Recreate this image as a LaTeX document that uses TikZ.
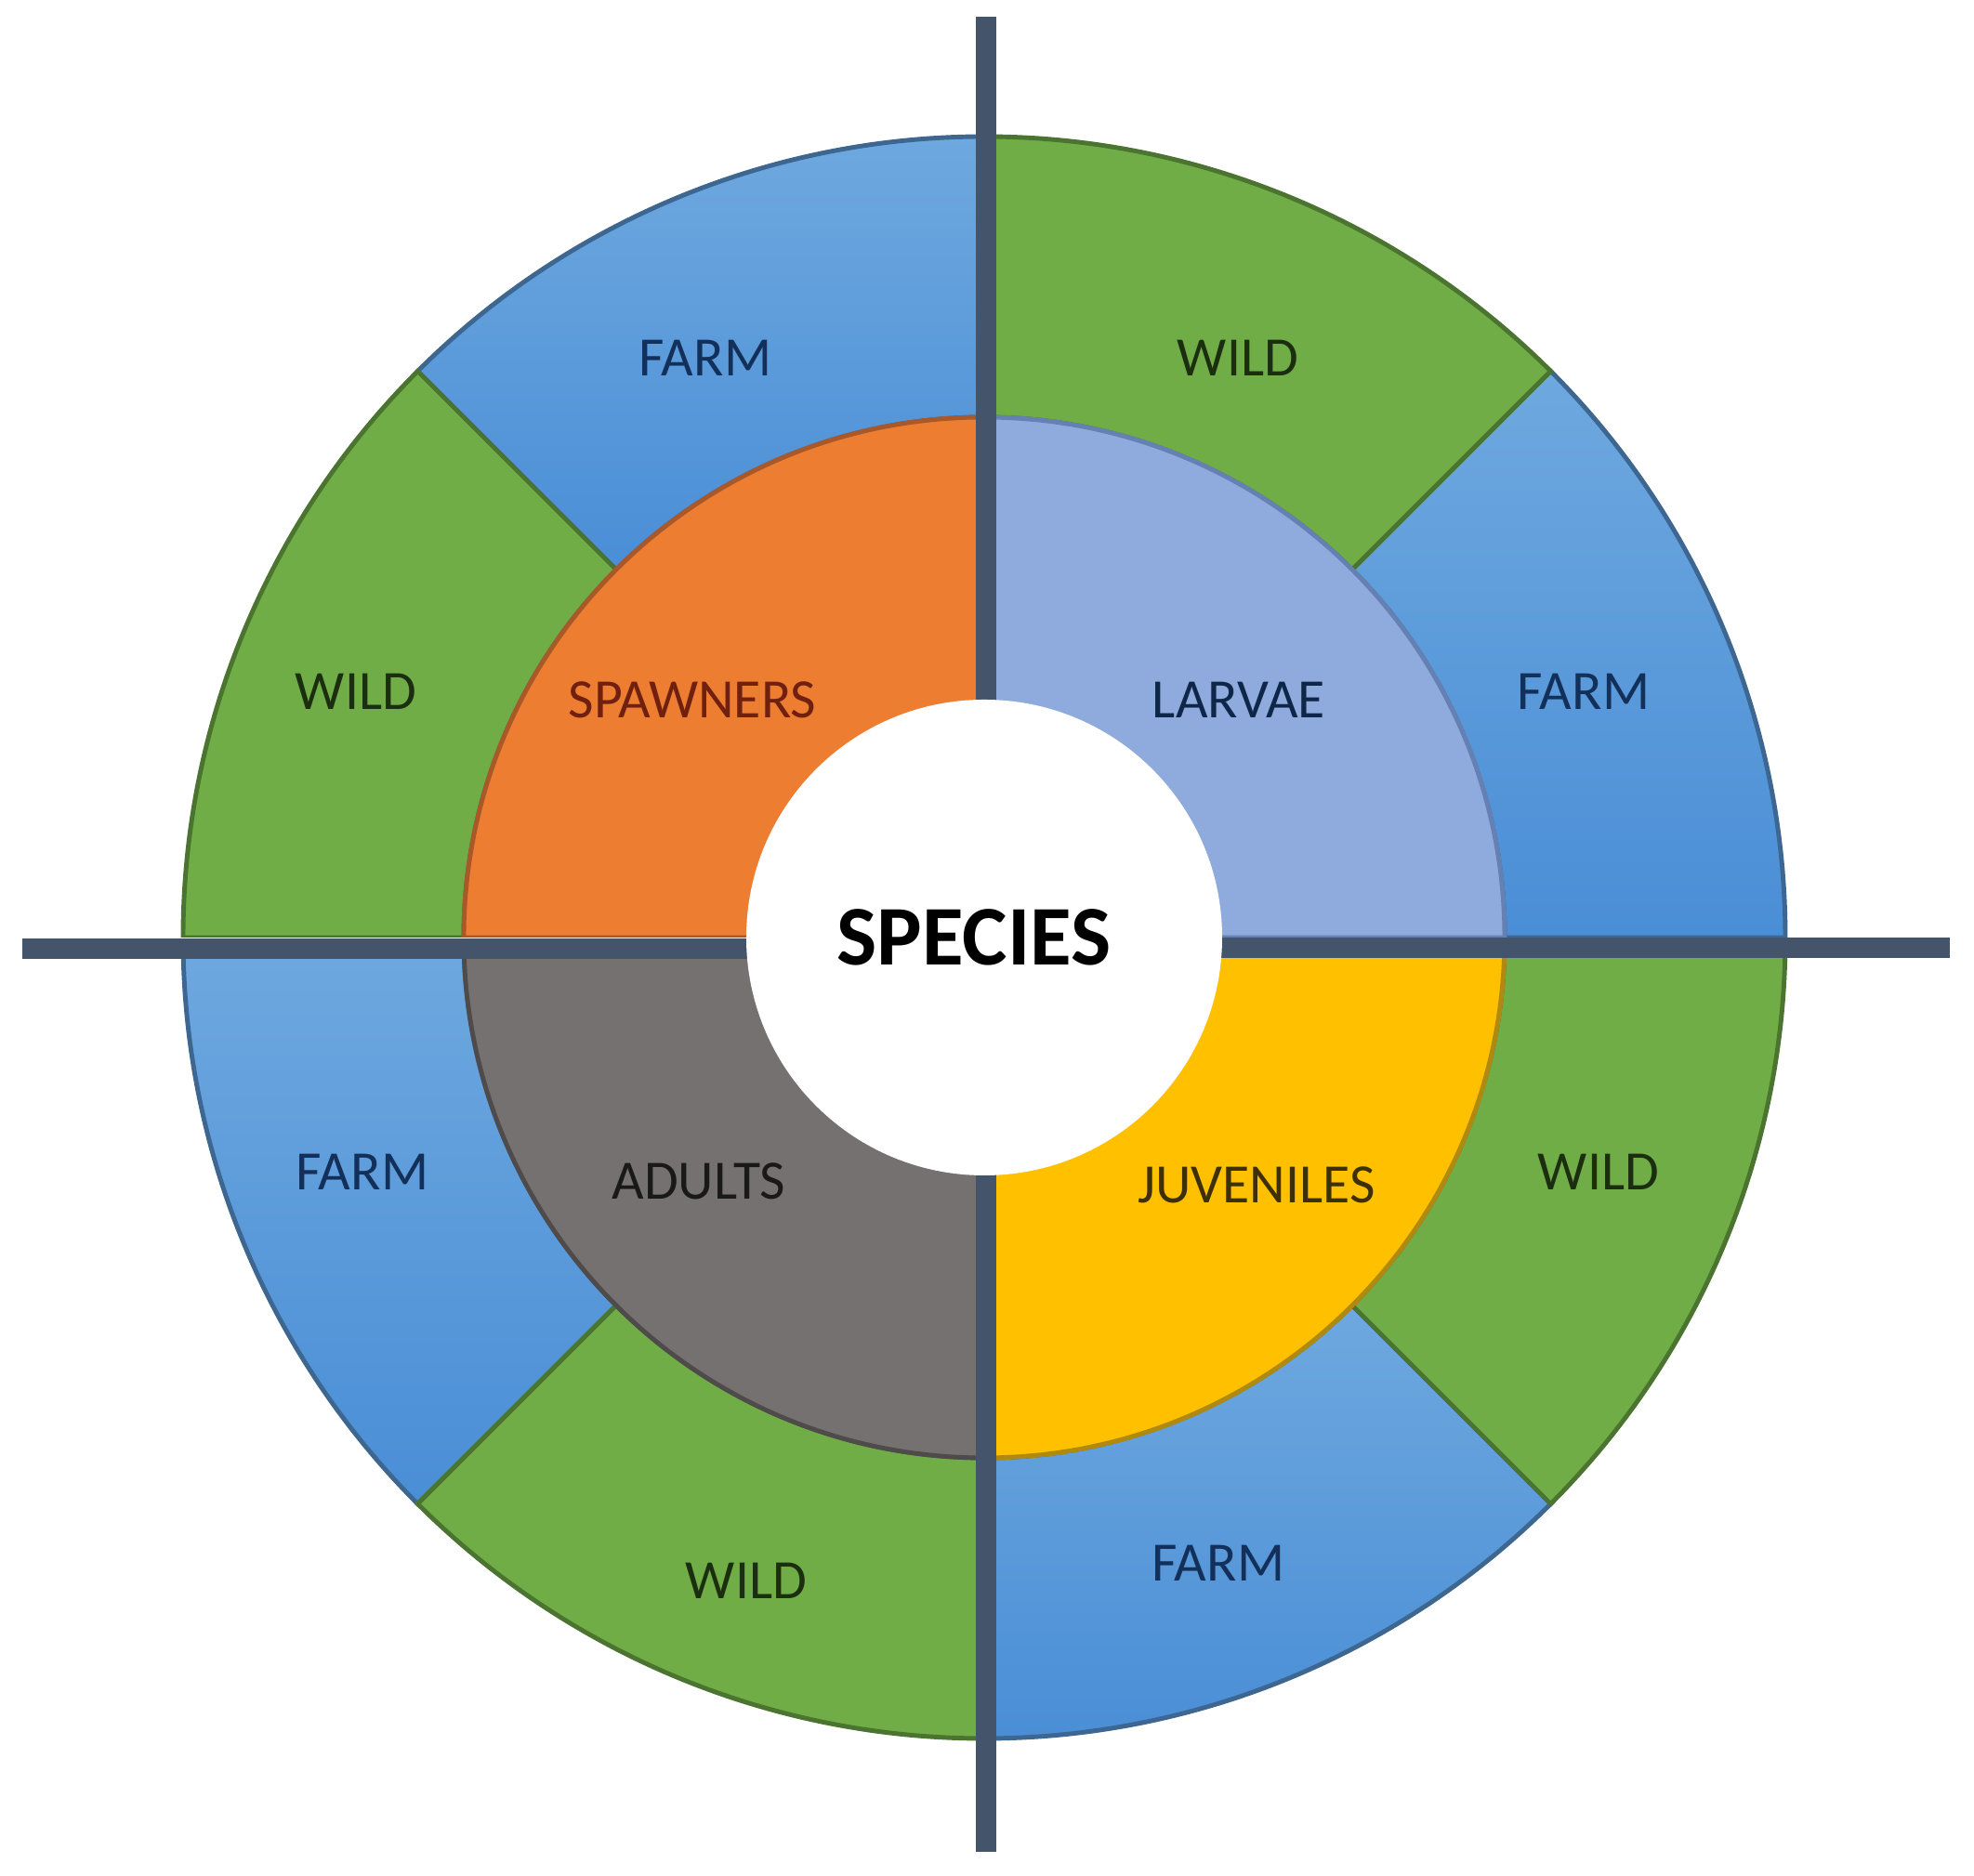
\documentclass[tikz,border=0pt]{standalone}
\usepackage{fontspec}
\setmainfont{Carlito}

\definecolor{wildfill}{HTML}{70AD47}
\definecolor{wildline}{HTML}{4A7430}
\definecolor{farmtop}{HTML}{6EA8DF}
\definecolor{farmbot}{HTML}{4A8ED6}
\definecolor{farmline}{HTML}{3D6690}
\definecolor{spawnfill}{HTML}{ED7D31}
\definecolor{spawnline}{HTML}{A9582A}
\definecolor{larvfill}{HTML}{8FAADC}
\definecolor{larvline}{HTML}{6580B2}
\definecolor{juvfill}{HTML}{FFC000}
\definecolor{juvline}{HTML}{B08A10}
\definecolor{adultfill}{HTML}{767171}
\definecolor{adultline}{HTML}{4F4B4B}
\definecolor{axiscol}{HTML}{44546A}
\definecolor{farmtxt}{HTML}{12305A}
\definecolor{wildtxt}{HTML}{1B2E10}

\tikzset{
  wild/.style={draw=wildline, line width=1.4pt, fill=wildfill},
  farm/.style={draw=farmline, line width=1.4pt, top color=farmtop, bottom color=farmbot},
  stage/.style={draw=#1line, line width=1.4pt, fill=#1fill},
  axis/.style={draw=axiscol, line width=6pt},
  lbl/.style={font=\fontsize{17}{20}\selectfont, inner sep=1pt},
}

\begin{document}
\begin{tikzpicture}
        \useasboundingbox (-10.59,-10.10) rectangle (10.65,10.09);
        % one quadrant at a time: farm, wild, then the stage
        \foreach \q/\c/\cx/\cy/\px/\py in {0/larv/0.12/0/11/11, 90/spawn/-0.09/0/-11/11,
                                           180/adult/-0.09/-0.23/-11/-11, 270/juv/0.12/-0.21/11/-11}{
          \begin{scope}
            \clip (\cx,\cy) rectangle (\px,\py);
            \draw[farm] (\q:8.62) arc[start angle=\q, delta angle=45, radius=8.62]
                   -- ({\q+45}:5.6) arc[start angle=\q+45, delta angle=-45, radius=5.6] -- cycle;
            \draw[wild] ({\q+45}:8.62) arc[start angle=\q+45, delta angle=45, radius=8.62]
                   -- ({\q+90}:5.6) arc[start angle=\q+90, delta angle=-45, radius=5.6] -- cycle;
            \draw[stage=\c] (\q:5.6) arc[start angle=\q, delta angle=90, radius=5.6]
                   -- (0,0) -- cycle;
          \end{scope}
        }
        % axes
        \coordinate (axisN) at (0.02,9.91);
        \coordinate (axisS) at (0.02,-9.84);
        \coordinate (axisW) at (-10.35,-0.12);
        \coordinate (axisWc) at (0,-0.12);
        \coordinate (axisE) at (10.39,-0.11);
        \coordinate (axisEc) at (0,-0.11);
        \draw[axis] (axisN) -- (axisS);
        \draw[axis] (axisW) -- (axisWc);
        \draw[axis] (axisEc) -- (axisE);
        \node[circle, fill=white, minimum size=5.12cm, inner sep=0pt,
              font=\fontsize{26}{30}\selectfont\bfseries] (species) at (0,0) {\hspace*{-0.22cm}SPECIES};
        % labels
        \node[lbl, text=farmtxt] (farmNW) at (-3.00,6.24) {FARM};
        \node[lbl, text=wildtxt] (wildNE) at (2.73,6.24) {WILD};
        \node[lbl, text=wildtxt] (wildWN) at (-6.76,2.65) {WILD};
        \node[lbl, text=farmtxt] (farmEN) at (6.45,2.65) {FARM};
        \node[lbl, text=farmtxt] (farmWS) at (-6.69,-2.52) {FARM};
        \node[lbl, text=wildtxt] (wildES) at (6.61,-2.52) {WILD};
        \node[lbl, text=wildtxt] (wildSW) at (-2.56,-6.92) {WILD};
        \node[lbl, text=farmtxt] (farmSE) at (2.52,-6.73) {FARM};
        \node[lbl, text=spawnline!45!black!80!red] (spawners) at (-3.14,2.56) {SPAWNERS};
        \node[lbl, text=farmtxt!80!black] (larvae) at (2.74,2.56) {LARVAE};
        \node[lbl, text=black!90] (adults) at (-3.07,-2.62) {ADULTS};
        \node[lbl, text=juvline!35!black] (juveniles) at (2.93,-2.66) {JUVENILES};
\end{tikzpicture}
\end{document}
